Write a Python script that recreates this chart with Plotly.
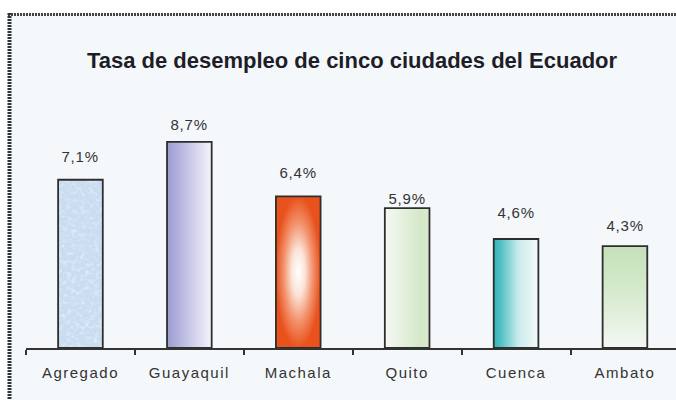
import base64
import plotly.graph_objects as go

# --- data -------------------------------------------------------------
categorias = ["Agregado", "Guayaquil", "Machala", "Quito", "Cuenca", "Ambato"]
tasas = [7.1, 8.7, 6.4, 5.9, 4.6, 4.3]
etiquetas = ["7,1%", "8,7%", "6,4%", "5,9%", "4,6%", "4,3%"]
titulo = "Tasa de desempleo de cinco ciudades del Ecuador"

# --- styling ----------------------------------------------------------
W, H = 676, 400
ML, MR, MT, MB = 26, 0, 40, 52
PW, PH = W - ML - MR, H - MT - MB
ANCHO_BARRA = 0.41
elevacion = [23, 17, 24, 10, 26, 21]  # px between bar top and label centre
FONDO = "#f5f8fb"
TINTA = "#2e2e2e"


def svg_uri(defs, body):
    svg = (
        '<svg xmlns="http://www.w3.org/2000/svg" width="45" height="200" '
        'viewBox="0 0 45 200" preserveAspectRatio="none">'
        f"<defs>{defs}</defs>{body}</svg>"
    )
    return "data:image/svg+xml;base64," + base64.b64encode(svg.encode()).decode()


def lineal(x1, y1, x2, y2, stops):
    s = "".join(f'<stop offset="{o}" stop-color="{c}"/>' for o, c in stops)
    return svg_uri(
        f'<linearGradient id="g" x1="{x1}" y1="{y1}" x2="{x2}" y2="{y2}">{s}</linearGradient>',
        '<rect width="45" height="200" fill="url(#g)"/>',
    )


def radial(stops):
    s = "".join(f'<stop offset="{o}" stop-color="{c}"/>' for o, c in stops)
    return svg_uri(
        f'<radialGradient id="g" cx="0.5" cy="0.5" r="0.5">{s}</radialGradient>',
        '<rect width="45" height="200" fill="url(#g)"/>',
    )


def moteado():
    return svg_uri(
        '<filter id="f" x="0" y="0" width="100%" height="100%">'
        '<feTurbulence type="fractalNoise" baseFrequency="0.22" numOctaves="3" seed="7"/>'
        '<feColorMatrix type="matrix" values="0 0 0 0 0.98  0 0 0 0 0.88  0 0 0 0 0.96  1.6 0 0 0 -0.75"/>'
        "</filter>",
        '<rect width="45" height="200" fill="#c8ddf1"/>'
        '<rect width="45" height="200" filter="url(#f)"/>',
    )


rellenos = [
    moteado(),
    lineal(0, 0, 1, 0, [(0, "#9b9bd2"), (0.5, "#c8c8e8"), (1, "#f4f4fb")]),
    radial([(0, "#ffffff"), (0.3, "#fbe4d9"), (0.65, "#f2936e"), (1, "#e9521c")]),
    lineal(0, 0, 1, 0, [(0, "#f6f9f4"), (0.8, "#d3e8c8"), (1, "#d8eacd")]),
    lineal(0, 0, 1, 0, [(0, "#34b3b6"), (0.15, "#50c0c2"), (0.55, "#c9ebeb"), (1, "#f5f9fa")]),
    lineal(0, 0, 0, 1, [(0, "#c4e0b9"), (0.45, "#d6eacd"), (1, "#f4f8f3")]),
]

# y scale: ~23.7 px per percentage point
Y_MAX = PH / 23.7
X_MAX = -0.5 + PW / 108.9


def px_x(p):
    return (p - ML) / PW


def px_y(p):
    return (H - MB - p) / PH


fig = go.Figure()

fig.add_trace(
    go.Bar(
        x=categorias,
        y=tasas,
        width=ANCHO_BARRA,
        marker=dict(color="rgba(0,0,0,0)", line=dict(color=TINTA, width=1.8)),
        hoverinfo="skip",
    )
)

imagenes = []
for i, (v, src) in enumerate(zip(tasas, rellenos)):
    imagenes.append(
        dict(
            source=src,
            xref="x",
            yref="y",
            x=i - ANCHO_BARRA / 2,
            y=v,
            sizex=ANCHO_BARRA,
            sizey=v,
            xanchor="left",
            yanchor="top",
            sizing="stretch",
            layer="below",
        )
    )

anotaciones = [
    dict(
        x=c,
        y=v,
        text=t,
        showarrow=False,
        yanchor="middle",
        yshift=s,
        font=dict(family="Liberation Sans, Arial, sans-serif", size=15, color="#333333"),
    )
    for c, v, t, s in zip(categorias, tasas, etiquetas, elevacion)
]

formas = [
    # white surround outside the framed panel
    dict(type="rect", xref="paper", yref="paper", x0=px_x(-5), x1=px_x(W + 5),
         y0=px_y(13), y1=px_y(-5), fillcolor="white", line=dict(width=0)),
    dict(type="rect", xref="paper", yref="paper", x0=px_x(-5), x1=px_x(8),
         y0=px_y(H + 5), y1=px_y(13), fillcolor="white", line=dict(width=0)),
    # frame borders
    dict(type="line", xref="paper", yref="paper", x0=px_x(8), x1=px_x(W + 5),
         y0=px_y(14.5), y1=px_y(14.5), line=dict(color="#444444", width=3, dash="2px,1px")),
    dict(type="line", xref="paper", yref="paper", x0=px_x(9.5), x1=px_x(9.5),
         y0=px_y(13), y1=px_y(H + 5), line=dict(color="#333333", width=4, dash="2px,1px")),
]

fig.update_layout(
    width=W,
    height=H,
    margin=dict(l=ML, r=MR, t=MT, b=MB, pad=0),
    paper_bgcolor=FONDO,
    plot_bgcolor="rgba(0,0,0,0)",
    showlegend=False,
    title=dict(
        text=f"<b>{titulo}</b>",
        x=352 / W,
        xanchor="center",
        y=1 - 60 / H,
        yanchor="middle",
        yref="container",
        font=dict(family="Liberation Sans, Arial, sans-serif", size=22, color="#1e1e28"),
    ),
    xaxis=dict(
        type="category",
        range=[-0.5, X_MAX],
        showline=True,
        linecolor="#333333",
        linewidth=1.5,
        ticks="outside",
        tickson="boundaries",
        ticklen=5,
        tickwidth=1.5,
        tickcolor="#333333",
        ticklabelstandoff=10,
        showgrid=False,
        zeroline=False,
        tickfont=dict(family="Liberation Sans, Arial, sans-serif", size=15, color="#333333"),
    ),
    yaxis=dict(
        range=[0, Y_MAX],
        visible=False,
        showgrid=False,
        zeroline=False,
    ),
    images=imagenes,
    annotations=anotaciones,
    shapes=formas,
)

# widen the letter spacing of the axis and value labels
espaciado = """
var gd = document.querySelector('.plotly-graph-div');
function espaciar() {
  gd.querySelectorAll('.xtick text').forEach(function (t) { t.style.letterSpacing = '1.5px'; });
  gd.querySelectorAll('.annotation-text').forEach(function (t) { t.style.letterSpacing = '0.8px'; });
}
espaciar();
gd.on('plotly_afterplot', espaciar);
"""

fig.write_html("out.html", post_script=espaciado)
